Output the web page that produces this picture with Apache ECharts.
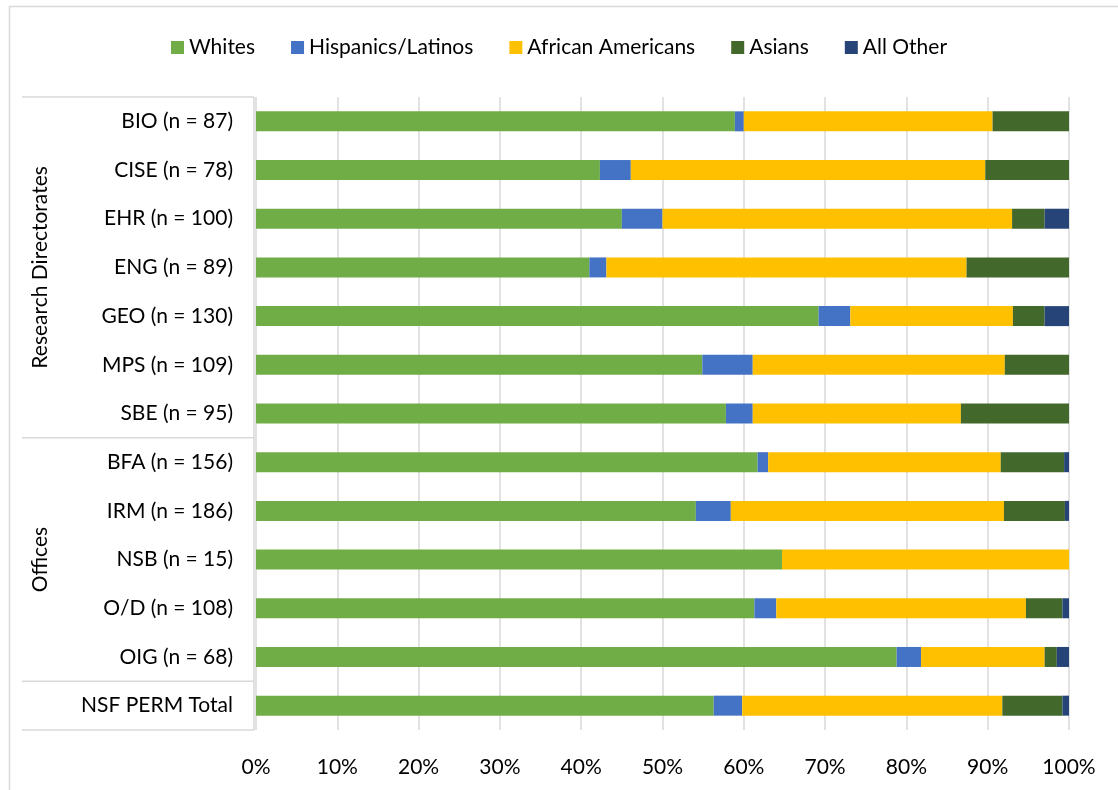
<!DOCTYPE html>
<html>
<head>
<meta charset="utf-8">
<script src="https://cdn.jsdelivr.net/npm/echarts@6/dist/echarts.min.js"></script>
<style>html,body{margin:0;padding:0;background:#fff;}#c{width:1118px;height:790px;}</style>
</head>
<body>
<div id="c"></div>
<script>
const categories = ['BIO (n = 87)','CISE (n = 78)','EHR (n = 100)','ENG (n = 89)','GEO (n = 130)','MPS (n = 109)','SBE (n = 95)','BFA (n = 156)','IRM (n = 186)','NSB (n = 15)','O/D (n = 108)','OIG (n = 68)','NSF PERM Total'];
const whites    = [58.9, 42.3, 45, 41.0, 69.2, 54.9, 57.8, 61.7, 54.1, 64.7, 61.3, 78.8, 56.3];
const hispanics = [1.1, 3.8, 5, 2.1, 3.9, 6.2, 3.3, 1.3, 4.3, 0, 2.7, 3.0, 3.5];
const african   = [30.6, 43.6, 43, 44.3, 20.0, 31.0, 25.6, 28.6, 33.6, 35.3, 30.7, 15.2, 32.0];
const asians    = [9.4, 10.3, 4, 12.6, 3.9, 7.9, 13.3, 7.8, 7.5, 0, 4.5, 1.5, 7.4];
const allOther  = [0, 0, 3, 0, 3.0, 0, 0, 0.6, 0.5, 0, 0.8, 1.5, 0.8];
const seriesNames = ['Whites','Hispanics/Latinos','African Americans','Asians','All Other'];
const groups = [{name:'Research Directorates', from:0, to:6},{name:'Offices', from:7, to:11},{name:'', from:12, to:12}];
const tickLabels = ['0%','10%','20%','30%','40%','50%','60%','70%','80%','90%','100%'];

const colors = ['#70AD47','#4472C4','#FFC000','#43682B','#264478'];
const font = 'Lato, "Open Sans", sans-serif';
const fs = 21;
const dataSets = [whites, hispanics, african, asians, allOther];

const chart = echarts.init(document.getElementById('c'));
chart.setOption({
  animation:false,
  color: colors,
  textStyle:{fontFamily:font},
  legend:{
    top:32, left:'center',
    itemWidth:13, itemHeight:13, itemGap:36,
    icon:'rect',
    textStyle:{fontSize:fs, color:'#000', fontFamily:font},
    data: seriesNames
  },
  grid:{left:256, right:49, top:97, bottom:60, containLabel:false},
  xAxis:{
    type:'value', min:0, max:100, interval:10,
    axisLine:{show:false}, axisTick:{show:false},
    splitLine:{lineStyle:{color:'#d9d9d9', width:1.5}},
    axisLabel:{formatter:(v)=>tickLabels[Math.round(v/10)], fontSize:fs, color:'#000', margin:27, fontFamily:font}
  },
  yAxis:{
    type:'category', inverse:true, data:categories,
    axisLine:{show:false}, axisTick:{show:false},
    axisLabel:{fontSize:fs, color:'#000', margin:23, fontFamily:font}
  },
  series: seriesNames.map((n,i)=>({
    name:n, type:'bar', stack:'total', barWidth:20,
    data:dataSets[i]
  }))
});

function drawDecor(){
  const band = chart.convertToPixel({yAxisIndex:0}, 1) - chart.convertToPixel({yAxisIndex:0}, 0);
  const edge = (i)=>chart.convertToPixel({yAxisIndex:0}, i) - band/2;
  const xr = 254, xl = 22;
  const lineStyle = {stroke:'#d9d9d9', lineWidth:1.5};
  const els = [];
  els.push({type:'rect', shape:{x:9.5, y:6.5, width:1300, height:1000}, style:{fill:'none', stroke:'#d9d9d9', lineWidth:1.5}, silent:true});
  const topY = edge(0), botY = edge(categories.length);
  els.push({type:'line', shape:{x1:xr, y1:topY, x2:xr, y2:botY}, style:lineStyle});
  const ys = [topY];
  groups.forEach(g=>{ ys.push(edge(g.to+1)); });
  ys.forEach(y=>els.push({type:'line', shape:{x1:xl, y1:y, x2:xr, y2:y}, style:lineStyle}));
  groups.forEach(g=>{
    if(!g.name) return;
    const cy = (edge(g.from)+edge(g.to+1))/2;
    els.push({type:'text', x:40, y:cy, rotation:Math.PI/2,
      style:{text:g.name, fontSize:fs, fill:'#000', fontFamily:font, align:'center', verticalAlign:'middle'}});
  });
  chart.setOption({graphic:els});
}
drawDecor();
</script>
</body>
</html>
